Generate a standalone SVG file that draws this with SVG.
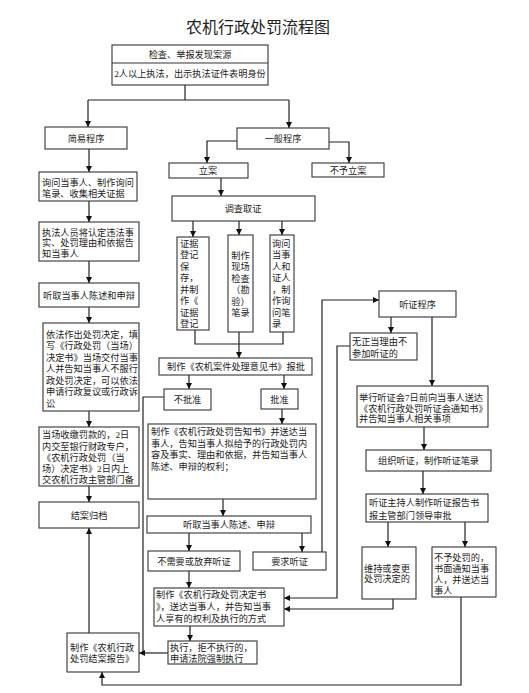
<svg xmlns="http://www.w3.org/2000/svg" width="529" height="693" viewBox="0 0 529 693">
<defs>
<marker id="a" viewBox="0 0 10 10" refX="10" refY="5" markerWidth="6" markerHeight="7" orient="auto" markerUnits="userSpaceOnUse"><path d="M0,0 L10,5 L0,10z" fill="#111"/></marker>
<style>
rect{fill:#fff;stroke:#333;stroke-width:1.1}
text{font-family:"Liberation Serif","Noto Sans CJK SC",serif;font-size:9.2px;fill:#222}
.c{text-anchor:middle}
.t{font-size:16px}
#connectors path{fill:none;stroke:#222;stroke-width:1.2}
#connectors .ar{marker-end:url(#a)}
</style>
</defs>
<rect width="529" height="693" style="fill:#fff;stroke:none"/>
<text class="c t" x="258" y="33">农机行政处罚流程图</text>

<g id="connectors">
<path d="M185,85 V100 M88,100 H289"/>
<path class="ar" d="M88,100 V127"/>
<path class="ar" d="M289,100 V128"/>
<path class="ar" d="M89,149 V172"/>
<path class="ar" d="M237,141 H207 V163"/>
<path class="ar" d="M329,142 H349 V163"/>
<path class="ar" d="M89,201 V222"/>
<path class="ar" d="M89,261 V283"/>
<path class="ar" d="M89,307 V323"/>
<path class="ar" d="M89,411 V427"/>
<path class="ar" d="M89,486 V502"/>
<path class="ar" d="M89,633 V528"/>
<path class="ar" d="M221,178 V196"/>
<path class="ar" d="M193,221 V237"/>
<path class="ar" d="M239,221 V235"/>
<path class="ar" d="M282,221 V235"/>
<path d="M195,330 V344 H283 V332"/>
<path class="ar" d="M239,332 V358"/>
<path class="ar" d="M189,375 V389"/>
<path class="ar" d="M284,375 V389"/>
<path d="M164,397 H143 V653"/>
<path class="ar" d="M282,409 V424"/>
<path class="ar" d="M223,499 V516"/>
<path class="ar" d="M189,533 V551"/>
<path class="ar" d="M302,533 V552"/>
<path class="ar" d="M322,552 V300 H379"/>
<path class="ar" d="M189,571 V588"/>
<path class="ar" d="M190,626 V641"/>
<path class="ar" d="M168,653 H139"/>
<path class="ar" d="M391,317 V333"/>
<path class="ar" d="M350,346 H337 V598 H284"/>
<path class="ar" d="M432,317 V386"/>
<path class="ar" d="M424,427 V450"/>
<path class="ar" d="M423,471 V494"/>
<path class="ar" d="M388,522 V547"/>
<path class="ar" d="M465,522 V547"/>
<path class="ar" d="M393,599 V609 H284"/>
<path class="ar" d="M461,597 V685 H102 V672"/>
</g>

<g id="n-source">
<rect x="112" y="45" width="156" height="40"/>
<path d="M112,63 H268" stroke="#333" stroke-width="1.1"/>
<text class="c" x="190" y="58">检查、举报发现案源</text>
<text class="c" x="190" y="77">2人以上执法，出示执法证件表明身份</text>
</g>

<g id="n-simple"><rect x="45" y="127" width="82" height="22"/><text class="c" x="86" y="141.5">简易程序</text></g>
<g id="n-general"><rect x="237" y="128" width="92" height="21"/><text class="c" x="283" y="142">一般程序</text></g>
<g id="n-lian"><rect x="169" y="163" width="79" height="15"/><text class="c" x="208" y="174">立案</text></g>
<g id="n-nolian"><rect x="312" y="163" width="72" height="14"/><text class="c" x="348" y="174">不予立案</text></g>

<g id="n-ask"><rect x="39" y="172" width="98" height="29"/>
<text x="42" y="185.5">询问当事人、制作询问</text><text x="42" y="196.5">笔录、收集相关证据</text></g>

<g id="n-inform"><rect x="39" y="222" width="100" height="39"/>
<text x="42" y="235.5">执法人员将认定违法事</text><text x="42" y="246">实、处罚理由和依据告</text><text x="42" y="256.5">知当事人</text></g>

<g id="n-hear1"><rect x="39" y="283" width="100" height="24"/><text class="c" x="89" y="298.5">听取当事人陈述和申辩</text></g>

<g id="n-decide"><rect x="43" y="323" width="96" height="88"/>
<text x="46" y="337.5">依法作出处罚决定，填</text>
<text x="46" y="349">写《行政处罚（当场）</text>
<text x="46" y="360.5">决定书》当场交付当事</text>
<text x="46" y="372">人并告知当事人不服行</text>
<text x="46" y="383.5">政处罚决定，可以依法</text>
<text x="46" y="395">申请行政复议或行政诉</text>
<text x="46" y="406.5">讼</text></g>

<g id="n-collect"><rect x="39" y="427" width="100" height="59"/>
<text x="42" y="437.5">当场收缴罚款的，2日</text>
<text x="42" y="449.5">内交至银行财政专户，</text>
<text x="42" y="460.5">《农机行政处罚（当</text>
<text x="42" y="471.5">场）决定书》2日内上</text>
<text x="42" y="482.5">交农机行政主管部门备</text></g>

<g id="n-archive"><rect x="39" y="502" width="100" height="26"/><text class="c" x="89" y="519">结案归档</text></g>

<g id="n-report"><rect x="67" y="633" width="72" height="39"/>
<text x="70" y="650.5">制作《农机行政</text><text x="70" y="661.5">处罚结案报告》</text></g>

<g id="n-investigate"><rect x="172" y="196" width="143" height="25"/><text class="c" x="243" y="212">调查取证</text></g>

<g id="n-evidence"><rect x="177" y="237" width="32" height="93"/>
<text x="180" y="246.5">证据</text><text x="180" y="258">登记</text><text x="180" y="269.5">保</text><text x="180" y="281">存，</text>
<text x="180" y="292.5">并制</text><text x="180" y="304">作《</text><text x="180" y="315.5">证据</text><text x="180" y="327">登记</text></g>

<g id="n-scene"><rect x="228" y="235" width="25" height="97"/>
<text class="c" x="240.5" y="258.5">制作</text><text class="c" x="240.5" y="270">现场</text><text class="c" x="240.5" y="281.5">检查</text>
<text class="c" x="240.5" y="293">（勘</text><text class="c" x="240.5" y="304.5">验）</text><text class="c" x="240.5" y="316">笔录</text></g>

<g id="n-witness"><rect x="270" y="235" width="24" height="97"/>
<text x="272" y="246.5">询问</text><text x="272" y="258">当事</text><text x="272" y="269.5">人和</text><text x="272" y="281">证人</text>
<text x="272" y="292.5">，制</text><text x="272" y="304">作询</text><text x="272" y="315.5">问笔</text><text x="272" y="327">录</text></g>

<g id="n-opinion"><rect x="159" y="358" width="153" height="17"/><text class="c" x="236" y="370">制作《农机案件处理意见书》报批</text></g>
<g id="n-reject"><rect x="164" y="389" width="47" height="21"/><text class="c" x="187.5" y="403">不批准</text></g>
<g id="n-approve"><rect x="261" y="389" width="37" height="20"/><text class="c" x="279.5" y="402.5">批准</text></g>

<g id="n-notice"><rect x="148" y="424" width="168" height="75"/>
<text x="151" y="434.5">制作《农机行政处罚告知书》并送达当</text>
<text x="151" y="446.5">事人，告知当事人拟给予的行政处罚内</text>
<text x="151" y="457.5">容及事实、理由和依据，并告知当事人</text>
<text x="151" y="470">陈述、申辩的权利；</text></g>

<g id="n-hear2"><rect x="147" y="516" width="164" height="17"/><text class="c" x="229" y="528">听取当事人陈述、申辩</text></g>
<g id="n-waive"><rect x="148" y="551" width="92" height="20"/><text class="c" x="194" y="564.5">不需要或放弃听证</text></g>
<g id="n-request"><rect x="253" y="552" width="73" height="18"/><text class="c" x="289.5" y="564.5">要求听证</text></g>

<g id="n-decision"><rect x="154" y="588" width="130" height="38"/>
<text x="156" y="598">制作《农机行政处罚决定书</text>
<text x="156" y="610">》，送达当事人，并告知当事</text>
<text x="156" y="621.5">人享有的权利及执行的方式</text></g>

<g id="n-execute"><rect x="168" y="641" width="89" height="23"/>
<text x="170" y="650.5">执行，拒不执行的，</text><text x="170" y="661.5">申请法院强制执行</text></g>

<g id="n-hearing"><rect x="379" y="291" width="77" height="26"/><text class="c" x="417.5" y="307.5">听证程序</text></g>

<g id="n-absent"><rect x="350" y="333" width="67" height="27"/>
<text x="352" y="344.5">无正当理由不</text><text x="352" y="356.5">参加听证的</text></g>

<g id="n-hold"><rect x="357" y="386" width="131" height="41"/>
<text x="359" y="400.5">举行听证会7日前向当事人送达</text>
<text x="359" y="411.5">《农机行政处罚听证会通知书》</text>
<text x="359" y="421.5">并告知当事人相关事项</text></g>

<g id="n-organize"><rect x="366" y="450" width="125" height="21"/><text class="c" x="428.5" y="464">组织听证，制作听证笔录</text></g>

<g id="n-host"><rect x="366" y="494" width="122" height="28"/>
<text x="369" y="505.5">听证主持人制作听证报告书</text><text x="369" y="518.5">报主管部门领导审批</text></g>

<g id="n-keep"><rect x="362" y="547" width="54" height="52"/>
<text x="364" y="571.5">维持或变更</text><text x="364" y="581.5">处罚决定的</text></g>

<g id="n-nopunish"><rect x="432" y="547" width="64" height="50"/>
<text x="434" y="560.5">不予处罚的，</text><text x="434" y="571.5">书面通知当事</text><text x="434" y="582.5">人，并送达当</text><text x="434" y="593.5">事人</text></g>
</svg>
